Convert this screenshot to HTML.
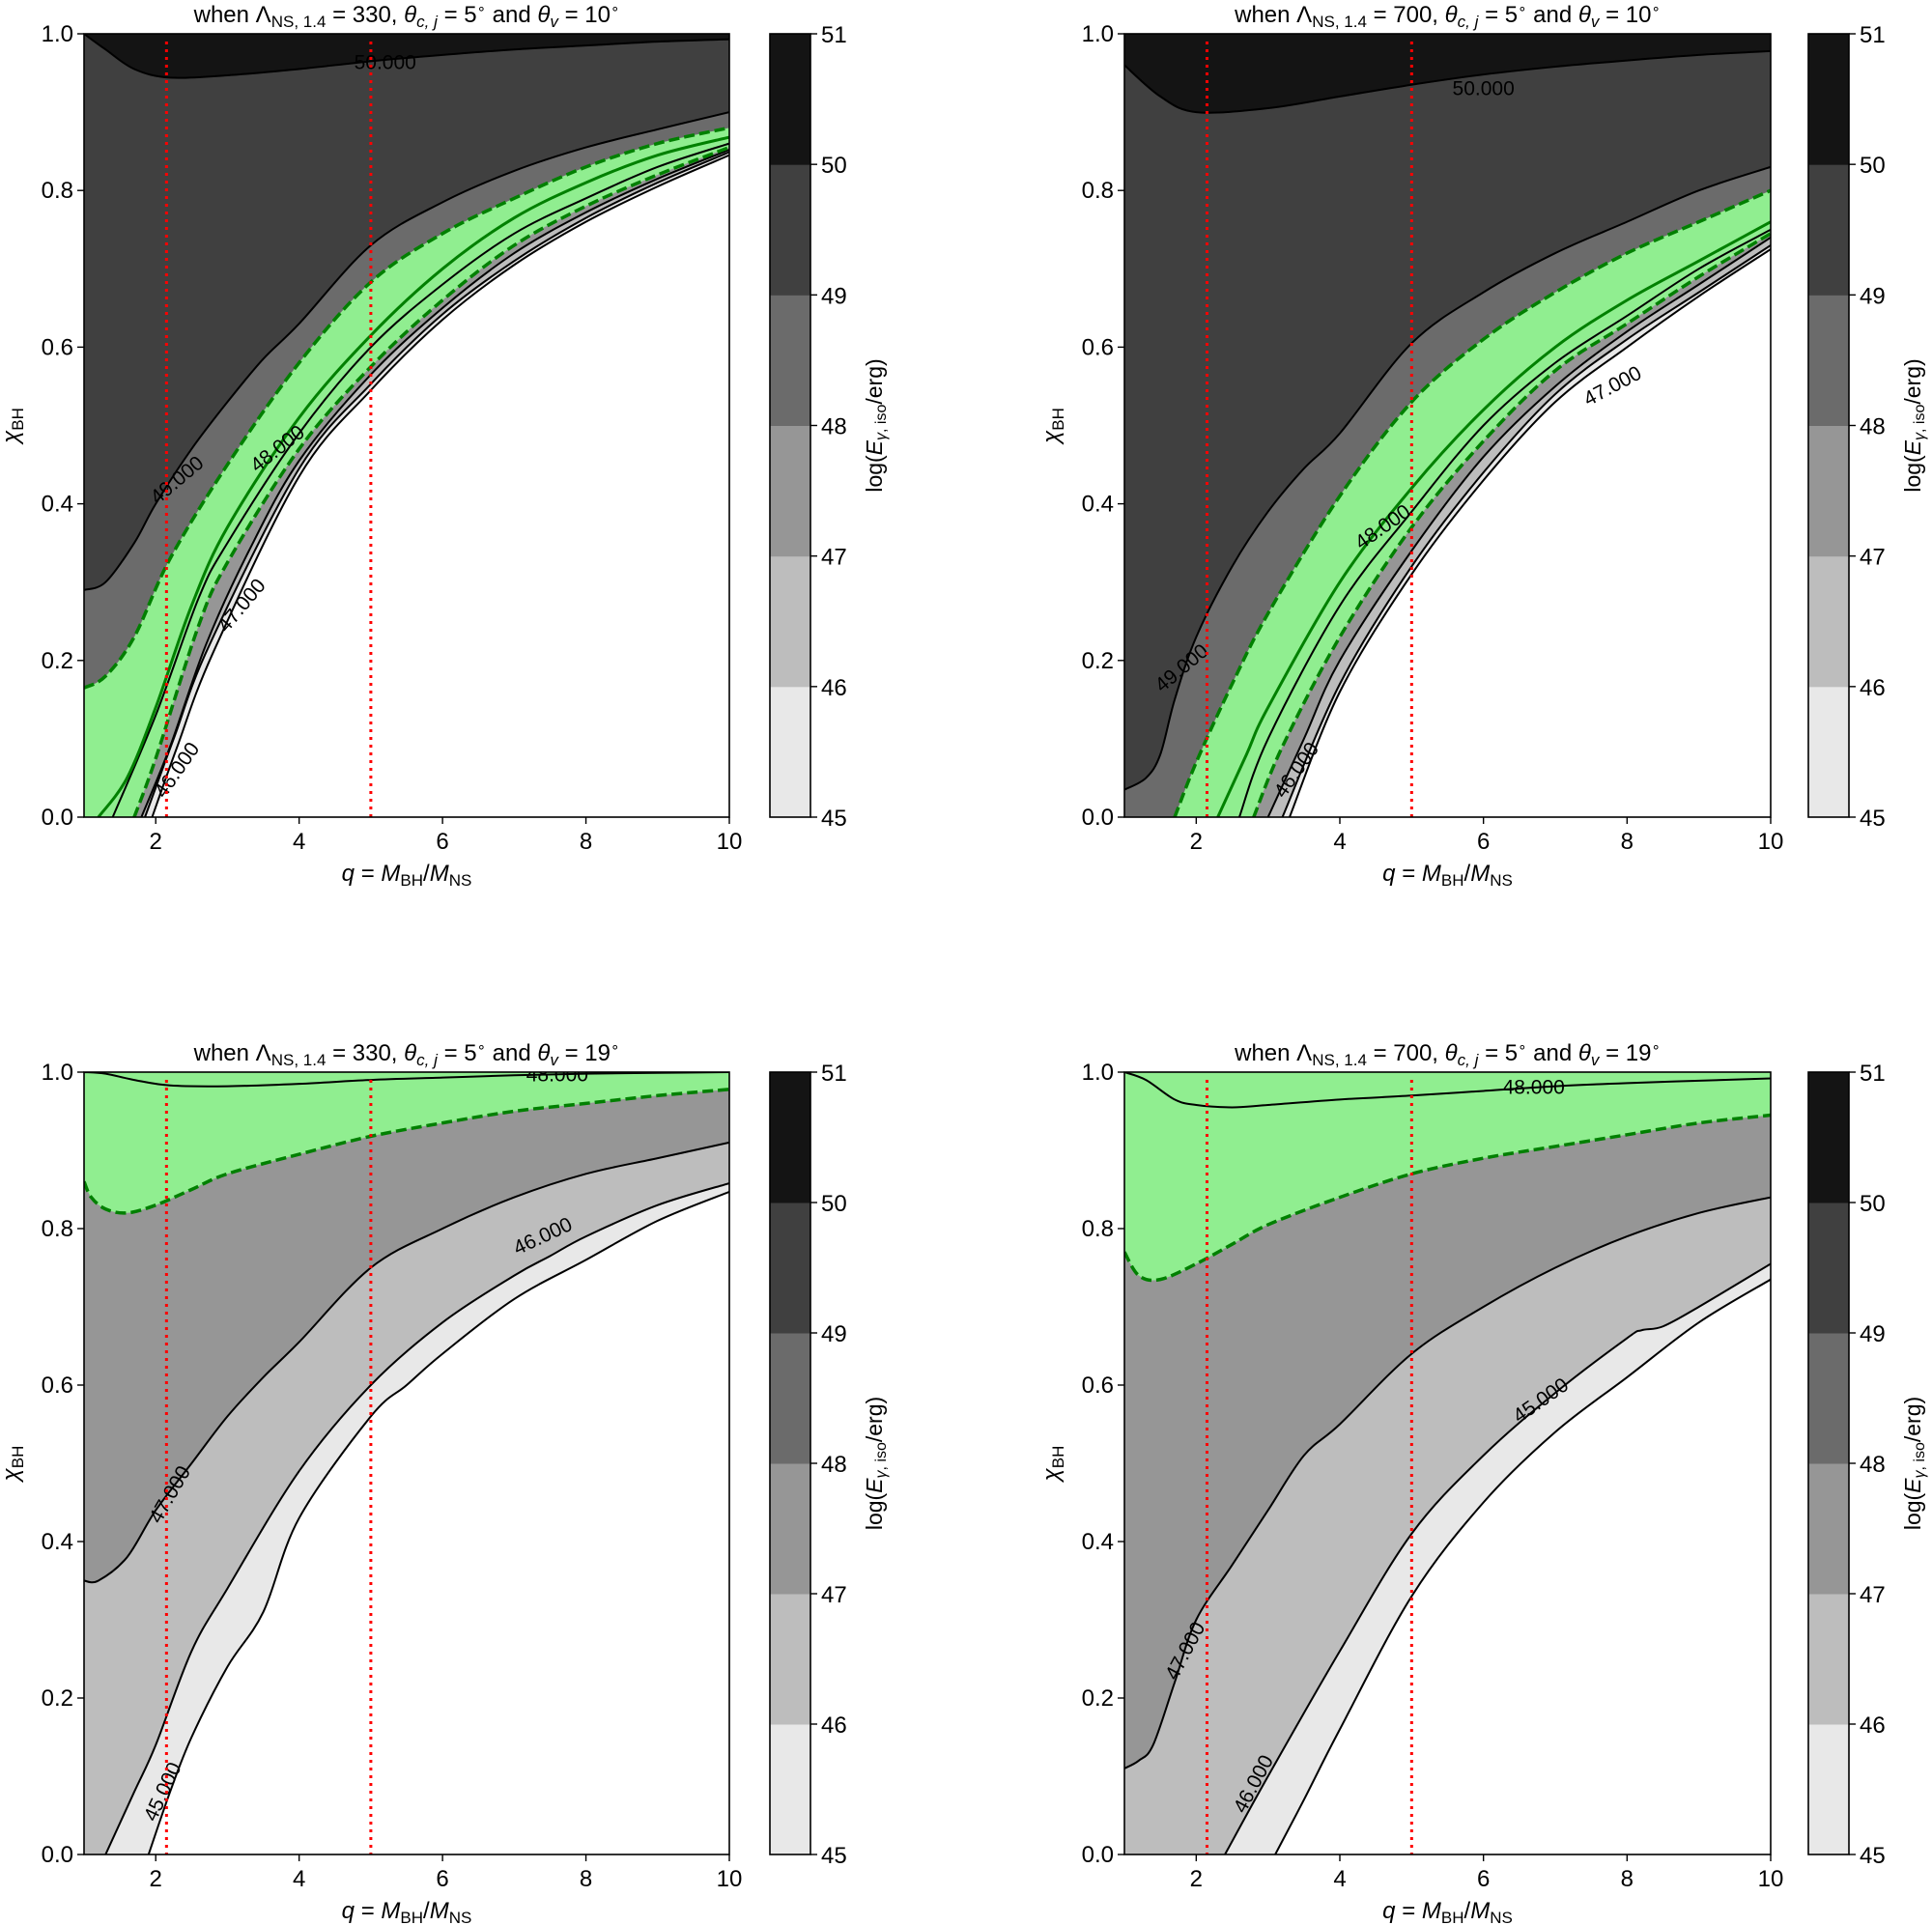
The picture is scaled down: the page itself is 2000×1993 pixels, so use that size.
<!DOCTYPE html>
<html><head><meta charset="utf-8"><style>
html,body{margin:0;padding:0;background:#fff;}
svg{display:block;font-family:"Liberation Sans","DejaVu Sans",sans-serif;}
</style></head><body>
<svg id="fig" width="2000" height="1993" viewBox="0 0 2000 1993" xmlns="http://www.w3.org/2000/svg"></svg>
<script>
// ---- data (q = M_BH/M_NS, chi_BH) ----
const levels = [45,46,47,48,49,50,51];
const levelColors = ['#e8e8e8','#bdbdbd','#969696','#6b6b6b','#404040','#141414'];
const xTicks = [2,4,6,8,10];
const yTicks = [0,0.2,0.4,0.6,0.8,1.0];
const cbTicks = [45,46,47,48,49,50,51];
const redLinesQ = [2.15,5];

// Panel A: Lambda=330, theta_v=10
const a_c45=[[1.95,0],[2.3,0.09],[2.8,0.21],[4,0.435],[5,0.545],[6,0.635],[7,0.705],[8,0.76],[9,0.805],[10,0.845]];
const a_c46=[[1.85,0],[2.25,0.1],[2.75,0.22],[4,0.445],[5,0.553],[6,0.642],[7,0.71],[8,0.765],[9,0.81],[10,0.849]];
const a_c47=[[1.8,0],[2.2,0.09],[2.7,0.22],[3.3,0.34],[4,0.455],[5,0.565],[6,0.65],[7,0.72],[8,0.772],[9,0.815],[10,0.852]];
const a_c48=[[1.4,0],[2,0.13],[2.6,0.28],[3,0.35],[4,0.49],[5,0.6],[6,0.68],[7,0.745],[8,0.79],[9,0.83],[10,0.86]];
const a_c49=[[1,0.29],[1.3,0.3],[1.7,0.35],[2,0.4],[2.5,0.47],[3,0.53],[3.5,0.585],[4,0.63],[5,0.73],[6,0.785],[7,0.825],[8,0.855],[9,0.878],[10,0.9]];
const a_c50=[[1,1.0],[1.3,0.98],[1.7,0.955],[2.2,0.944],[3,0.947],[4,0.955],[5,0.965],[6,0.973],[7,0.98],[8,0.985],[9,0.99],[10,0.993]];
const a_gLow=[[1.7,0],[2,0.075],[2.6,0.245],[3,0.325],[4,0.47],[5,0.575],[6,0.66],[7,0.73],[8,0.78],[9,0.82],[10,0.855]];
const a_gUp=[[1,0.165],[1.3,0.18],[1.7,0.23],[2.2,0.33],[3,0.45],[4,0.58],[5,0.683],[6,0.745],[7,0.79],[8,0.83],[9,0.86],[10,0.88]];
const a_gMid=[[1.2,0],[1.6,0.05],[2,0.14],[2.5,0.27],[3,0.37],[4,0.51],[5,0.615],[6,0.7],[7,0.765],[8,0.81],[9,0.845],[10,0.868]];

// Panel B: Lambda=700, theta_v=10
const b_c45=[[3.3,0],[4,0.16],[5,0.31],[6,0.43],[7,0.53],[8,0.6],[9,0.665],[10,0.725]];
const b_c46=[[3.2,0],[4,0.17],[5,0.32],[6,0.44],[7,0.54],[8,0.61],[9,0.67],[10,0.73]];
const b_c47=[[3,0],[3.5,0.1],[4,0.2],[5,0.34],[6,0.46],[7,0.55],[8,0.62],[9,0.68],[10,0.74]];
const b_c48=[[2.6,0],[3,0.1],[4,0.27],[5,0.39],[6,0.5],[7,0.58],[8,0.64],[9,0.7],[10,0.75]];
const b_c49=[[1,0.035],[1.3,0.05],[1.5,0.08],[1.7,0.15],[2,0.23],[2.5,0.32],[3,0.39],[3.5,0.445],[4,0.49],[5,0.605],[6,0.67],[7,0.72],[8,0.76],[9,0.8],[10,0.83]];
const b_c50=[[1,0.96],[1.5,0.92],[2,0.9],[3,0.905],[4,0.92],[5,0.935],[6,0.948],[7,0.958],[8,0.966],[9,0.973],[10,0.978]];
const b_gLow=[[2.8,0],[3.2,0.09],[4,0.23],[5,0.37],[6,0.48],[7,0.57],[8,0.63],[9,0.69],[10,0.745]];
const b_gUp=[[1.7,0],[2,0.07],[2.5,0.17],[3,0.26],[4,0.41],[5,0.53],[6,0.61],[7,0.67],[8,0.72],[9,0.76],[10,0.8]];
const b_gMid=[[2.3,0],[2.7,0.08],[3,0.14],[4,0.3],[5,0.42],[6,0.52],[7,0.6],[8,0.66],[9,0.71],[10,0.76]];

// Panel C: Lambda=330, theta_v=19
const c_c45=[[1.9,0],[2.2,0.08],[2.5,0.15],[3,0.24],[3.5,0.31],[4,0.43],[5,0.56],[5.5,0.6],[6,0.64],[7,0.71],[8,0.76],[9,0.81],[10,0.847]];
const c_c46=[[1.3,0],[1.7,0.08],[2,0.14],[2.5,0.26],[3,0.34],[4,0.49],[5,0.6],[6,0.68],[7,0.74],[7.5,0.765],[8,0.79],[9,0.83],[10,0.858]];
const c_c47=[[1,0.35],[1.2,0.35],[1.6,0.38],[2,0.44],[2.5,0.5],[3,0.56],[3.5,0.61],[4,0.655],[5,0.75],[6,0.8],[7,0.84],[8,0.87],[9,0.89],[10,0.91]];
const c_c48=[[1,1.0],[1.3,0.998],[1.7,0.99],[2.2,0.983],[3,0.982],[4,0.985],[5,0.99],[6,0.993],[7,0.996],[8,0.998],[9,0.999],[10,1.0]];
const c_gLow=[[1,0.86],[1.1,0.84],[1.3,0.825],[1.6,0.82],[2,0.83],[2.5,0.85],[3,0.87],[4,0.895],[5,0.918],[6,0.935],[7,0.95],[8,0.96],[9,0.97],[10,0.978]];
const c_gUp=[[1,1.0],[10,1.0]];

// Panel D: Lambda=700, theta_v=19
const d_c45=[[3.1,0],[3.5,0.07],[4,0.16],[5,0.33],[6,0.45],[7,0.54],[8,0.61],[9,0.68],[10,0.735]];
const d_c46=[[2.4,0],[3,0.1],[4,0.26],[5,0.41],[6,0.51],[7,0.59],[8,0.66],[8.2,0.67],[8.5,0.675],[9,0.7],[10,0.755]];
const d_c47=[[1,0.11],[1.2,0.12],[1.4,0.14],[1.7,0.22],[2,0.3],[2.5,0.37],[3,0.44],[3.5,0.51],[4,0.55],[5,0.64],[6,0.7],[7,0.75],[8,0.79],[9,0.82],[10,0.84]];
const d_c48=[[1,1.0],[1.3,0.99],[1.7,0.965],[2,0.958],[2.5,0.955],[3,0.958],[4,0.965],[5,0.97],[6,0.976],[7,0.982],[8,0.986],[9,0.989],[10,0.992]];
const d_gLow=[[1,0.77],[1.2,0.74],[1.5,0.735],[2,0.755],[2.5,0.78],[3,0.805],[4,0.84],[5,0.87],[6,0.89],[7,0.905],[8,0.92],[9,0.935],[10,0.945]];
const d_gUp=[[1,1.0],[10,1.0]];

const panels = [
 {name:'panel-lambda330-theta10', lam:'330', tv:'10', x0:87,x1:755,y0:35,y1:846,cb:797,
  curves:[a_c45,a_c46,a_c47,a_c48,a_c49,a_c50], gLow:a_gLow, gUp:a_gUp, gMid:a_gMid,
  labels:[['46.000',2.3,0.06,-55],['47.000',3.2,0.27,-50],['48.000',3.7,0.47,-38],['49.000',2.3,0.43,-40],['50.000',5.2,0.963,0]]},
 {name:'panel-lambda700-theta10', lam:'700', tv:'10', x0:1164,x1:1833,y0:35,y1:846,cb:1872,
  curves:[b_c45,b_c46,b_c47,b_c48,b_c49,b_c50], gLow:b_gLow, gUp:b_gUp, gMid:b_gMid,
  labels:[['46.000',3.4,0.06,-55],['47.000',7.8,0.55,-28],['48.000',4.6,0.37,-35],['49.000',1.8,0.19,-40],['50.000',6,0.93,0]]},
 {name:'panel-lambda330-theta19', lam:'330', tv:'19', x0:87,x1:755,y0:1110,y1:1920,cb:797,
  curves:[c_c45,c_c46,c_c47,c_c48,null,null], gLow:c_gLow, gUp:c_gUp, gMid:null,
  labels:[['45.000',2.1,0.08,-65],['46.000',7.4,0.79,-25],['47.000',2.2,0.46,-60],['48.000',7.6,0.996,0]]},
 {name:'panel-lambda700-theta19', lam:'700', tv:'19', x0:1164,x1:1833,y0:1110,y1:1920,cb:1872,
  curves:[d_c45,d_c46,d_c47,d_c48,null,null], gLow:d_gLow, gUp:d_gUp, gMid:null,
  labels:[['45.000',6.8,0.58,-35],['46.000',2.8,0.09,-62],['47.000',1.85,0.26,-62],['48.000',6.7,0.98,0]]}
];

const NS='http://www.w3.org/2000/svg';
const svg=document.getElementById('fig');
function mk(tag,attrs,parent){const e=document.createElementNS(NS,tag);for(const k in attrs)e.setAttribute(k,attrs[k]);(parent||svg).appendChild(e);return e;}
function smooth(pts){
  let d='M'+pts[0][0]+','+pts[0][1];
  for(let i=0;i<pts.length-1;i++){
    const p0=pts[Math.max(0,i-1)],p1=pts[i],p2=pts[i+1],p3=pts[Math.min(pts.length-1,i+2)];
    const c1=[p1[0]+(p2[0]-p0[0])/6,p1[1]+(p2[1]-p0[1])/6];
    const c2=[p2[0]-(p3[0]-p1[0])/6,p2[1]-(p3[1]-p1[1])/6];
    d+=` C${c1[0]},${c1[1]} ${c2[0]},${c2[1]} ${p2[0]},${p2[1]}`;
  }
  return d;
}

panels.forEach((p,pi)=>{
  const g=mk('g',{});
  
  
  const X=q=>p.x0+(q-1)/9*(p.x1-p.x0);
  const Y=c=>p.y1-c*(p.y1-p.y0);
  const P=cv=>cv.map(d=>[X(d[0]),Y(d[1])]);
  const clipId='clip'+pi;
  const cp=mk('clipPath',{id:clipId},g);
  mk('rect',{x:p.x0,y:p.y0,width:p.x1-p.x0,height:p.y1-p.y0},cp);
  const inner=mk('g',{'clip-path':'url(#'+clipId+')'},g);
  const bg=mk('rect',{x:p.x0,y:p.y0,width:p.x1-p.x0,height:p.y1-p.y0,fill:'#ffffff'},inner);
  
  
  p.curves.forEach((cv,i)=>{
    if(!cv) return;
    let d=smooth(P(cv));
    d+=` L${X(10)},${Y(1)} L${X(1)},${Y(1)}`;
    if(cv[0][0]>1) d+=` L${X(1)},${Y(0)}`;
    d+=' Z';
    const poly=mk('path',{d:d,fill:levelColors[i],stroke:levelColors[i],'stroke-width':0.5},inner);
    
    
  });
  let up=P(p.gUp), lo=P(p.gLow).reverse();
  let d=smooth(up)+' L'+lo[0][0]+','+lo[0][1]+' '+smooth(lo).replace(/^M[^ ]+/,'');
  if(p.gLow[0][0]>1) d+=` L${X(1)},${Y(0)}`;
  if(p.gUp[0][0]>1) d+=` L${X(1)},${Y(0)}`;
  d+=' Z';
  const gpoly=mk('path',{d:d,fill:'#90ee90'},inner);
  
  
  const line=(cv,attrs,nm)=>{
    const e=mk('path',Object.assign({d:smooth(P(cv)),fill:'none'},attrs),inner);
    
    
  };
  p.curves.forEach((cv,i)=>{ if(cv) line(cv,{stroke:'#000','stroke-width':2},'contour-'+levels[i]); });
  if(p.gMid) line(p.gMid,{stroke:'#008000','stroke-width':3},'green-solid-line');
  line(p.gLow,{stroke:'#008000','stroke-width':3.5,'stroke-dasharray':'11,5'},'green-dashed-lower');
  if(p.gUp[0][1]<1) line(p.gUp,{stroke:'#008000','stroke-width':3.5,'stroke-dasharray':'11,5'},'green-dashed-upper');
  p.labels.forEach(l=>{
    const t=mk('text',{x:X(l[1]),y:Y(l[2]),'font-size':21,'text-anchor':'middle','dominant-baseline':'central',transform:`rotate(${l[3]} ${X(l[1])} ${Y(l[2])})`},inner);
    t.textContent=l[0];
    
    
  });
  redLinesQ.forEach(q=>{
    const r=mk('line',{x1:X(q),x2:X(q),y1:p.y0+8,y2:p.y1,stroke:'#ff0000','stroke-width':3,'stroke-dasharray':'3,5'},inner);
    
    
  });
  const fr=mk('rect',{x:p.x0,y:p.y0,width:p.x1-p.x0,height:p.y1-p.y0,fill:'none',stroke:'#000','stroke-width':1.6},g);
  
  
  xTicks.forEach(v=>{
    mk('line',{x1:X(v),x2:X(v),y1:p.y1,y2:p.y1+7,stroke:'#000','stroke-width':1.4},g);
    const t=mk('text',{x:X(v),y:p.y1+33,'font-size':24,'text-anchor':'middle'},g);
    t.textContent=v;
    
    
  });
  yTicks.forEach(v=>{
    mk('line',{x1:p.x0-7,x2:p.x0,y1:Y(v),y2:Y(v),stroke:'#000','stroke-width':1.4},g);
    const t=mk('text',{x:p.x0-11,y:Y(v)+8,'font-size':24,'text-anchor':'end'},g);
    t.textContent=v.toFixed(1);
    
    
  });
  const tt=mk('text',{x:(p.x0+p.x1)/2,y:p.y0-12,'font-size':24,'text-anchor':'middle'},g);
  tt.innerHTML=`when Λ<tspan font-size="17" dy="5">NS, 1.4</tspan><tspan dy="-5"> = ${p.lam}, </tspan><tspan font-style="italic">θ</tspan><tspan font-size="17" dy="5" font-style="italic">c, j</tspan><tspan dy="-5"> = 5</tspan><tspan font-size="15" dy="-9">∘</tspan><tspan dy="9">  and </tspan><tspan font-style="italic">θ</tspan><tspan font-size="17" dy="5" font-style="italic">v</tspan><tspan dy="-5"> = ${p.tv}</tspan><tspan font-size="15" dy="-9">∘</tspan>`;
  
  
  const xl=mk('text',{x:(p.x0+p.x1)/2,y:p.y1+66,'font-size':24,'text-anchor':'middle'},g);
  xl.innerHTML=`<tspan font-style="italic">q</tspan> = <tspan font-style="italic">M</tspan><tspan font-size="17" dy="5">BH</tspan><tspan dy="-5">/</tspan><tspan font-style="italic">M</tspan><tspan font-size="17" dy="5">NS</tspan>`;
  
  
  const yc=(p.y0+p.y1)/2, yx=p.x0-68;
  const yl=mk('text',{x:yx,y:yc,'font-size':24,'text-anchor':'middle',transform:`rotate(-90 ${yx} ${yc})`},g);
  yl.innerHTML=`<tspan font-style="italic">χ</tspan><tspan font-size="17" dy="5">BH</tspan>`;
  
  
  const cbw=42, cbH=(p.y1-p.y0)/6;
  const cbg=mk('g',{},g);
  
  
  levelColors.forEach((c,i)=>{
    mk('rect',{x:p.cb,y:p.y1-(i+1)*cbH,width:cbw,height:cbH+0.5,fill:c},cbg);
  });
  mk('rect',{x:p.cb,y:p.y0,width:cbw,height:p.y1-p.y0,fill:'none',stroke:'#000','stroke-width':1.6},cbg);
  cbTicks.forEach(v=>{
    const yy=p.y1-(v-45)*cbH;
    mk('line',{x1:p.cb+cbw,x2:p.cb+cbw+7,y1:yy,y2:yy,stroke:'#000','stroke-width':1.4},cbg);
    const t=mk('text',{x:p.cb+cbw+11,y:yy+9,'font-size':24},cbg);
    t.textContent=v;
    
    
  });
  const cx=p.cb+cbw+74;
  const cl=mk('text',{x:cx,y:yc,'font-size':23,'text-anchor':'middle',transform:`rotate(-90 ${cx} ${yc})`},cbg);
  cl.innerHTML=`log(<tspan font-style="italic">E</tspan><tspan font-size="16" dy="4"><tspan font-style="italic">γ</tspan>, iso</tspan><tspan dy="-4">/erg)</tspan>`;
  
  
});
</script>
</body></html>
